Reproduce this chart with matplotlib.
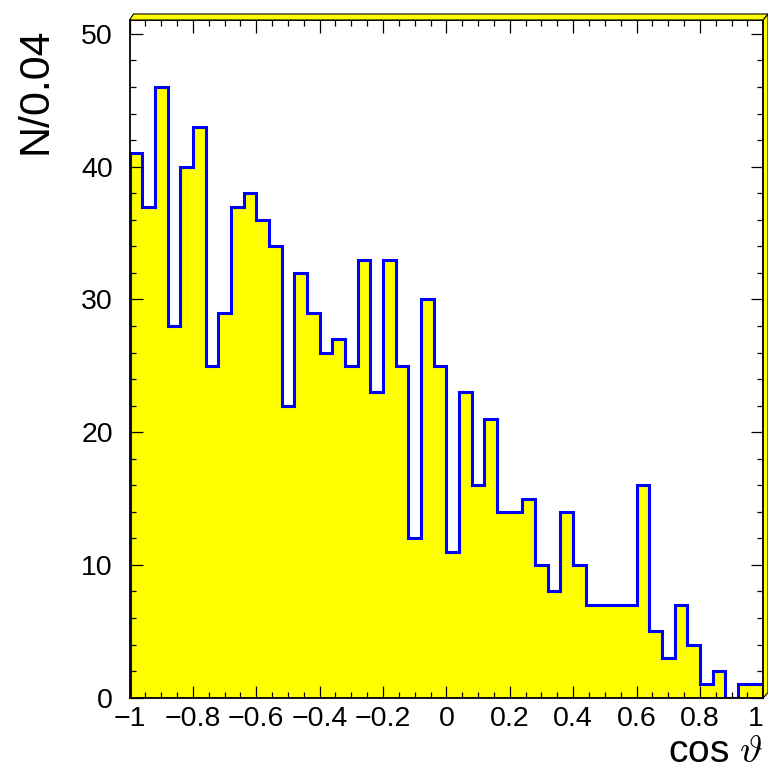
# histogram of cos(theta), 50 bins of width 0.04
import numpy as np
import matplotlib
matplotlib.use("Agg")
import matplotlib.pyplot as plt
from matplotlib.patches import Polygon
from matplotlib.ticker import MultipleLocator

# bin edges and counts
bin_edges = np.linspace(-1.0, 1.0, 51)
counts = [41, 37, 46, 28, 40, 43, 25, 29, 37, 38,
          36, 34, 22, 32, 29, 26, 27, 25, 33, 23,
          33, 25, 12, 30, 25, 11, 23, 16, 21, 14,
          14, 15, 10, 8, 14, 10, 7, 7, 7, 7,
          16, 5, 3, 7, 4, 1, 2, 0, 1, 1]

x_ticks = [-1, -0.8, -0.6, -0.4, -0.2, 0, 0.2, 0.4, 0.6, 0.8, 1]
x_labels = ["\u22121", "\u22120.8", "\u22120.6", "\u22120.4", "\u22120.2",
            "0", "0.2", "0.4", "0.6", "0.8", "1"]
y_ticks = [0, 10, 20, 30, 40, 50]

W, H = 768, 774
fig = plt.figure(figsize=(W / 100, H / 100), dpi=100)
plt.rcParams['mathtext.fontset'] = 'cm'

# frame in pixels: left 129.5, right 763.3, top 20, bottom 697.7
left, right, top, bottom = 129.5, 763.3, 20.0, 697.7
ax = fig.add_axes([left / W, 1 - bottom / H, (right - left) / W, (bottom - top) / H])

ax.stairs(counts, bin_edges, fill=True, facecolor="#ffff00", edgecolor="none", baseline=0)
ax.stairs(counts, bin_edges, fill=False, edgecolor="#0000ff", linewidth=2.2, baseline=0)

ax.set_xlim(-1, 1)
ax.set_ylim(0, 51.05)

ax.set_xticks(x_ticks)
ax.set_xticklabels(x_labels)
ax.set_yticks(y_ticks)
ax.xaxis.set_minor_locator(MultipleLocator(0.05))
ax.yaxis.set_minor_locator(MultipleLocator(2))

ax.tick_params(which="both", direction="in", top=True, right=True, color="black", width=0.9)
ax.tick_params(which="major", length=9)
ax.tick_params(which="minor", length=4.5)
ax.tick_params(axis="x", which="major", pad=6, labelsize=20.5)
ax.tick_params(axis="y", which="major", pad=12, labelsize=20.5)
for lab in ax.get_xticklabels() + ax.get_yticklabels():
    lab.set_family("Liberation Sans")
# keep the last x label inside the picture
ax.get_xticklabels()[-1].set_ha("right")

for sp in ax.spines.values():
    sp.set_linewidth(1.3)
    sp.set_color("black")

# axis titles
fig.text(35 / W, 1 - 28 / H, "N/0.04", rotation=90, ha="center", va="top",
         fontsize=31, family="Liberation Sans")
fig.text(763 / W, 1 - 770 / H, r"cos $\vartheta$", ha="right", va="bottom",
         fontsize=28, family="Liberation Sans")

# yellow 3d border on top and right of the frame
def fig_pts(pts):
    return [(x / W, 1 - y / H) for x, y in pts]

top_band = Polygon(fig_pts([(left, top), (left + 4, top - 6), (W, top - 6), (right, top)]),
                   closed=True, facecolor="#ffff00", edgecolor="black", linewidth=0.8,
                   transform=fig.transFigure)
right_band = Polygon(fig_pts([(right, top), (W, top - 6), (W, bottom - 5), (right, bottom)]),
                     closed=True, facecolor="#ffff00", edgecolor="black", linewidth=0.8,
                     transform=fig.transFigure)
fig.add_artist(top_band)
fig.add_artist(right_band)

fig.savefig("out.png", dpi=100)
